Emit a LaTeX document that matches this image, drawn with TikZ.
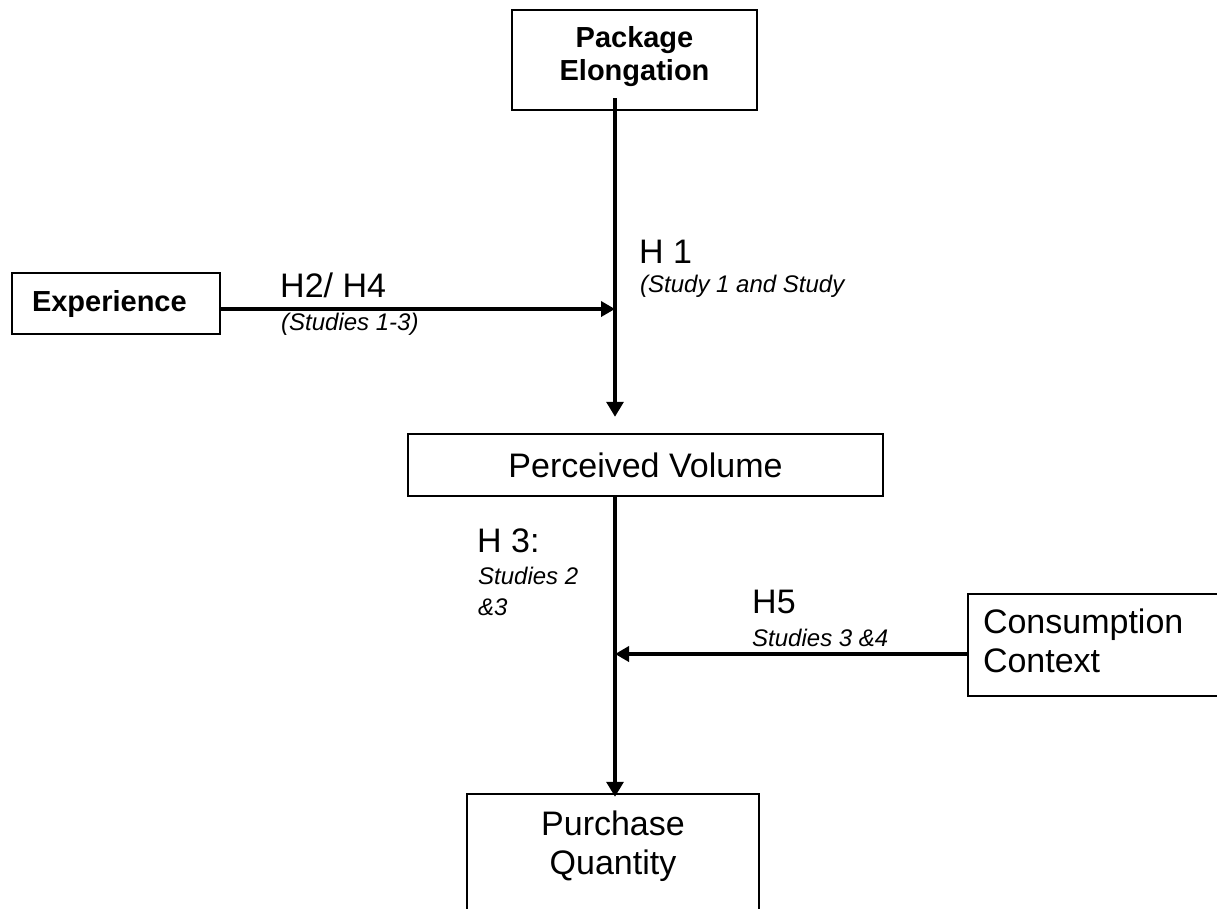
\documentclass[tikz,border=0pt]{standalone}
\usepackage{fontspec}
\setmainfont{Liberation Sans}
\usetikzlibrary{arrows.meta,calc}
\begin{document}
\begin{tikzpicture}[x=1pt,y=-1pt,
  box/.style={draw, line width=2.5pt, rectangle, inner sep=0pt, align=center},
  big/.style={font=\fontsize{34}{39}\selectfont},
  heavy/.style={font=\fontsize{29}{33}\selectfont\bfseries},
  small/.style={font=\fontsize{24}{29}\selectfont\itshape},
  vline/.style={line width=3.2pt, -{Triangle[length=15pt,width=17pt]}},
  hline/.style={line width=3.8pt, -{Triangle[length=14pt,width=15pt]}},
  lbl/.style={anchor=base west, inner sep=0pt, align=left}]

\useasboundingbox (0,0) rectangle (1217,908);

% boxes
\node[box, heavy, minimum width=245pt, minimum height=100pt, text depth=14pt] (pe) at (634.5,60) {Package\\Elongation};
\node[box, heavy, minimum width=208pt, minimum height=61pt, text width=168pt, align=left] (ex) at (116,303.5) {Experience};
\node[box, big, minimum width=475pt, minimum height=62pt] (pv) at (645.5,465) {Perceived Volume};
\node[box, big, minimum width=269pt, minimum height=102pt, text width=239pt, align=left, text depth=47pt] (cc) at (1102.5,645) {Consumption\\Context};
\node[box, big, minimum width=292pt, minimum height=136pt, text depth=38pt] (pq) at (613,862) {Purchase\\Quantity};

% junctions
\coordinate (axis) at (615,0);
\coordinate (j1) at (615,309);
\coordinate (j2) at (615,654);

% connectors
\draw[vline, shorten >=16pt] ($(pe.south -| axis)+(0,-13)$) -- (pv.north -| axis);
\draw[hline] (ex.east |- j1) -- (j1);
\draw[vline, shorten >=-4pt] ($(pv.south -| axis)+(0,-2)$) -- (pq.north -| axis);
\draw[hline] (cc.west |- j2) -- (j2);

% labels
\node[lbl, big] (h1) at (639,263) {H 1};
\node[lbl, small] (h1s) at (640,292) {(Study 1 and Study};
\node[lbl, big] (h24) at (280,297) {H2/ H4};
\node[lbl, small] (h24s) at (281,330) {(Studies 1-3)};
\node[lbl, big] (h3) at (477,552) {H 3:};
\node[lbl, small] (h3s) at (478,584) {Studies 2};
\node[lbl, small] (h3t) at (478,615) {\&3};
\node[lbl, big] (h5) at (752,613) {H5};
\node[lbl, small] (h5s) at (752,646) {Studies 3 \&4};
\end{tikzpicture}
\end{document}
